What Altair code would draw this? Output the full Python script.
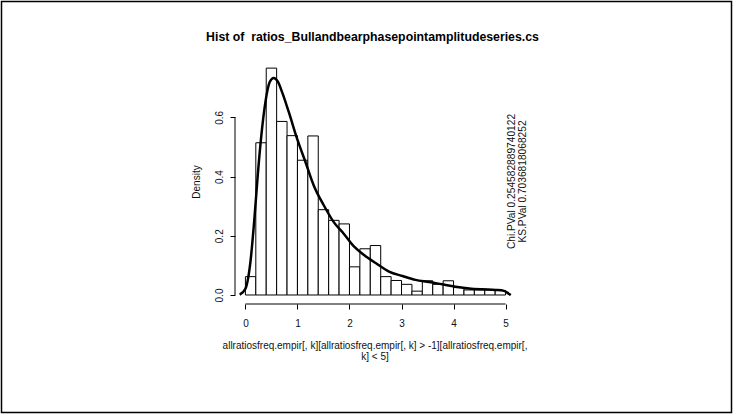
import altair as alt
import pandas as pd

# ---- data ----
bin_start = [0.0, 0.2, 0.4, 0.6, 0.8, 1.0, 1.2, 1.4, 1.6, 1.8, 2.0, 2.2, 2.4,
             2.6, 2.8, 3.0, 3.2, 3.4, 3.6, 3.8, 4.0, 4.2, 4.4, 4.6, 4.8]
bin_end = [0.2, 0.4, 0.6, 0.8, 1.0, 1.2, 1.4, 1.6, 1.8, 2.0, 2.2, 2.4, 2.6,
           2.8, 3.0, 3.2, 3.4, 3.6, 3.8, 4.0, 4.2, 4.4, 4.6, 4.8, 5.0]
density = [0.062, 0.514, 0.766, 0.586, 0.538, 0.455, 0.537, 0.288, 0.252, 0.240,
           0.095, 0.156, 0.167, 0.062, 0.049, 0.036, 0.013, 0.048, 0.036, 0.048,
           0.025, 0.017, 0.017, 0.017, 0.015]

curve_x = [-0.11, 0.0, 0.096, 0.173, 0.237, 0.30, 0.385, 0.467, 0.544, 0.621,
           0.705, 0.833, 0.993, 1.154, 1.313, 1.506, 1.698, 1.89, 2.09, 2.28,
           2.51, 2.76, 3.02, 3.27, 3.53, 3.78, 4.04, 4.30, 4.55, 4.81, 4.97,
           5.03, 5.10]
curve_y = [0.001, 0.021, 0.111, 0.258, 0.404, 0.528, 0.652, 0.719, 0.733, 0.721,
           0.685, 0.618, 0.528, 0.449, 0.370, 0.303, 0.246, 0.207, 0.163, 0.135,
           0.107, 0.079, 0.064, 0.051, 0.044, 0.036, 0.028, 0.022, 0.019, 0.017,
           0.014, 0.008, 0.0]

x_ticks = [0, 1, 2, 3, 4, 5]
y_ticks = [0.0, 0.2, 0.4, 0.6]

title_text = "Hist of\u00a0 ratios_Bullandbearphasepointamplitudeseries.cs"
xlab_lines = ["allratiosfreq.empir[, k][allratiosfreq.empir[, k] > -1][allratiosfreq.empir[,",
              "k] < 5]"]
ylab_text = "Density"
pval_lines = ["Chi.PVal 0.254582889740122", "KS.PVal 0.7036818068252"]

FONT = "Liberation Sans"
W, H = 281, 244
PAD = {"left": 235, "top": 60, "right": 734 - 235 - W, "bottom": 414 - 60 - H}

xs = alt.Scale(domain=[-0.2, 5.2], nice=False, zero=False)
ys = alt.Scale(domain=[-0.0304, 0.7934], nice=False, zero=False)

hist_df = pd.DataFrame({"x0": bin_start, "x1": bin_end, "d": density, "z": 0.0})
curve_df = pd.DataFrame({"x": curve_x, "y": curve_y})

bars = alt.Chart(hist_df).mark_rect(fill="white", stroke="black", strokeWidth=1).encode(
    x=alt.X("x0:Q", scale=xs,
            axis=alt.Axis(values=x_ticks, domain=False, grid=False, tickSize=5,
                          tickColor="black", labelFontSize=10, labelFont=FONT,
                          labelColor="#111", labelPadding=9, title=None,
                          format="d")),
    x2="x1:Q",
    y=alt.Y("d:Q", scale=ys,
            axis=alt.Axis(values=y_ticks, domain=False, grid=False, tickSize=5,
                          tickColor="black", labelFontSize=10, labelFont=FONT,
                          labelColor="#111", labelAngle=270, labelAlign="center",
                          labelBaseline="bottom", labelPadding=6, title=None,
                          format=".1f")),
    y2="z:Q",
)

curve = alt.Chart(curve_df).mark_line(color="black", strokeWidth=2.5,
                                      interpolate="monotone").encode(
    x=alt.X("x:Q", scale=xs), y=alt.Y("y:Q", scale=ys))

xdom = alt.Chart(pd.DataFrame({"a": [x_ticks[0]], "b": [x_ticks[-1]]})).mark_rule(
    color="black", strokeWidth=1).encode(
    x=alt.X("a:Q", scale=xs), x2="b:Q", y=alt.value(H))
ydom = alt.Chart(pd.DataFrame({"a": [y_ticks[0]], "b": [y_ticks[-1]]})).mark_rule(
    color="black", strokeWidth=1).encode(
    y=alt.Y("a:Q", scale=ys), y2="b:Q", x=alt.value(0))

title = alt.Chart(pd.DataFrame({"t": [title_text]})).mark_text(
    font=FONT, fontSize=12.3, fontWeight="bold", color="black",
    align="center", baseline="middle").encode(
    text="t:N", x=alt.value(137.5), y=alt.value(-23.3))

xlab = alt.Chart(pd.DataFrame({"t": xlab_lines, "yy": [285.7, 296.7]})).mark_text(
    font=FONT, fontSize=10, color="#111", align="center", baseline="middle").encode(
    text="t:N", x=alt.value(140), y=alt.Y("yy:Q", scale=None))

ylab = alt.Chart(pd.DataFrame({"t": [ylab_text]})).mark_text(
    font=FONT, fontSize=10, color="#111", align="center", baseline="middle",
    angle=270).encode(text="t:N", x=alt.value(-38.3), y=alt.value(122))

pvals = alt.Chart(pd.DataFrame({"t": pval_lines, "xx": [276.7, 287.7]})).mark_text(
    font=FONT, fontSize=10.2, color="#111", align="center", baseline="middle",
    angle=270).encode(text="t:N", x=alt.X("xx:Q", scale=None), y=alt.value(121.5))

border = alt.Chart(pd.DataFrame({"k": [1]})).mark_rect(
    fill=None, stroke="black", strokeWidth=1.5).encode(
    x=alt.value(-233.5), x2=alt.value(496.5), y=alt.value(-58.5), y2=alt.value(352.5))

chart = alt.layer(bars, curve, xdom, ydom, title, xlab, ylab, pvals, border).properties(
    width=W, height=H, padding=PAD,
    autosize=alt.AutoSizeParams(type="none"),
    background="white",
).configure_view(stroke=None)

chart.save("out.html", embed_options={"renderer": "svg", "actions": False})
